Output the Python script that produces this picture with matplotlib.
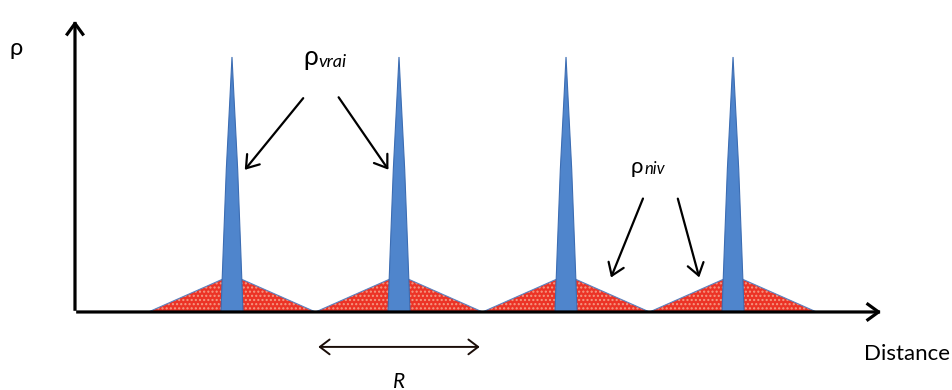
import matplotlib
matplotlib.use("Agg")
import matplotlib.pyplot as plt
from matplotlib.patches import Polygon, FancyArrowPatch

plt.rcParams['font.family'] = ['Lato', 'Open Sans', 'DejaVu Sans']

# peak positions along the distance axis, in units of the spacing R
R = 1.0
peak_pos = [1.0, 2.0, 3.0, 4.0]
rho_vrai = [1.0, 1.0, 1.0, 1.0]      # true density spikes
rho_niv = [0.145, 0.145, 0.145, 0.145]  # levelled density spread over R

# spike outline: (fraction of height, half-width in units of R)
spike_h = [1.0, 0.83, 0.56, 0.25, 0.0]
spike_w = [0.0, 0.013, 0.034, 0.052, 0.066]

fig = plt.figure(figsize=(9.53, 3.90), dpi=100)
ax = fig.add_axes([0, 0, 1, 1])
ax.set_xlim(-0.389, 5.317)
ax.set_ylim(-0.306, 1.2235)
ax.axis('off')

# red triangles (levelled density)
for x, h in zip(peak_pos, rho_niv):
    tri = [(x - R / 2, 0), (x, h), (x + R / 2, 0)]
    ax.add_patch(Polygon(tri, closed=True, facecolor='#ec3326',
                         edgecolor='#f49a84', linewidth=0, hatch='....', zorder=2))
    ax.add_patch(Polygon(tri, closed=True, facecolor='none',
                         edgecolor='#5b84c2', linewidth=0.8, zorder=3))

# blue spikes (true density)
for x, h in zip(peak_pos, rho_vrai):
    left = [(x - w, f * h) for f, w in zip(spike_h, spike_w)]
    right = [(x + w, f * h) for f, w in zip(spike_h, spike_w)][::-1]
    ax.add_patch(Polygon(left + right, closed=True, facecolor='#4f85cc',
                         edgecolor='#3c6db3', linewidth=0.8, zorder=4))

# axes
x0, y0 = 0.06, 0.0
axis_style = dict(arrowstyle='->,head_length=0.55,head_width=0.4', mutation_scale=14,
                  color='black', linewidth=2.3, capstyle='projecting', zorder=6)
ax.add_patch(FancyArrowPatch((x0, y0), (4.904, y0), **axis_style))
ax.add_patch(FancyArrowPatch((x0, y0), (x0, 1.153), **axis_style))

ax.text(-0.293, 1.035, 'ρ', fontsize=17, ha='center', va='center')
ax.text(5.317 - 0.015, -0.164, 'Distance', fontsize=16, ha='right', va='center')

# R spacing
ax.add_patch(FancyArrowPatch((peak_pos[0] + R / 2, -0.137), (peak_pos[1] + R / 2, -0.137),
                             arrowstyle='<->,head_length=0.5,head_width=0.38', mutation_scale=14,
                             color='#1a0d08', linewidth=1.4, zorder=6))
ax.text(peak_pos[0] + R, -0.235, 'R', fontsize=15, style='italic', ha='center', va='top')

# labels with pointer arrows
ax.text(1.47, 0.998, 'ρ', fontsize=19, ha='center', va='center')
ax.text(1.515, 0.980, 'vrai', fontsize=13, style='italic', ha='left', va='center')
ax.text(3.425, 0.569, 'ρ', fontsize=16, ha='center', va='center')
ax.text(3.467, 0.561, 'niv', fontsize=12, style='italic', ha='left', va='center')

pointer = dict(arrowstyle='->,head_length=0.65,head_width=0.45', mutation_scale=13,
               color='black', linewidth=1.6, zorder=6)
for start, end in [((1.437, 0.847), (1.066, 0.549)),
                   ((1.629, 0.851), (1.946, 0.549)),
                   ((3.467, 0.455), (3.263, 0.125)),
                   ((3.665, 0.455), (3.802, 0.125))]:
    ax.add_patch(FancyArrowPatch(start, end, **pointer))

fig.savefig('out.png', dpi=100)
